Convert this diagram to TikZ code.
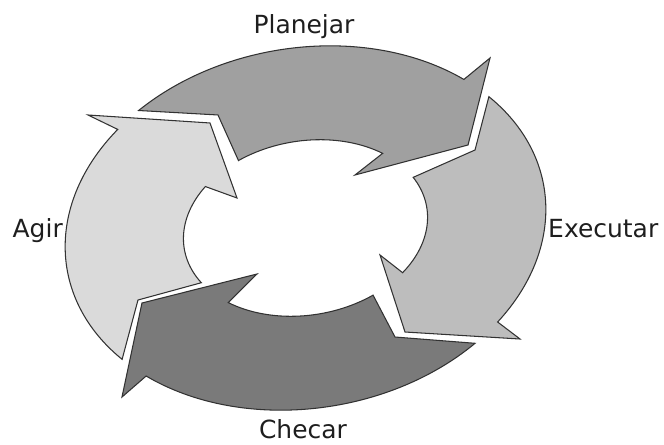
\documentclass[tikz,border=0pt]{standalone}
\usepackage{fontspec}
\setmainfont{DejaVu Sans}
\definecolor{planfill}{RGB}{160,160,160}
\definecolor{execfill}{RGB}{189,189,189}
\definecolor{checfill}{RGB}{122,122,122}
\definecolor{agirfill}{RGB}{218,218,218}
\definecolor{linegray}{RGB}{50,50,50}
\definecolor{textgray}{RGB}{30,30,30}
\begin{document}
\begin{tikzpicture}[x=0.03cm,y=-0.03cm,
  arrowshape/.style={draw=linegray, line width=0.9pt, line join=miter},
  lbl/.style={font=\fontsize{21.3}{25}\selectfont, text=textgray, inner sep=0pt}]
\useasboundingbox (0,0) rectangle (664,445);
% head and tail points (pixel coordinates)
\coordinate (PB) at (490,58);  \coordinate (PT) at (468,145);
\coordinate (PI) at (355,175); \coordinate (PN) at (218,115);
\coordinate (EB) at (520,339); \coordinate (ET) at (405,332);
\coordinate (EI) at (380,255); \coordinate (EN) at (475,150);
\coordinate (CB) at (122,397); \coordinate (CT) at (142,303);
\coordinate (CI) at (257,274); \coordinate (CN) at (395,337);
\coordinate (AB) at (88,115);  \coordinate (AT) at (210,123);
\coordinate (AI) at (237,198); \coordinate (AN) at (138,300);
\begin{scope}[shift={(305.5,228)}, rotate=10]
% Planejar
\path[arrowshape, fill=planfill] (-126.5:242 and 180)
  arc[start angle=-126.5, end angle=-41.3, x radius=242, y radius=180]
  -- (PB) -- (PT) -- (PI) -- (-43.7:123 and 87)
  arc[start angle=-43.7, end angle=-116.2, x radius=123, y radius=87]
  -- (PN) -- cycle;
% Executar
\path[arrowshape, fill=execfill] (-32.8:242 and 180)
  arc[start angle=-32.8, end angle=44.4, x radius=242, y radius=180]
  -- (EB) -- (ET) -- (EI) -- (44.4:123 and 87)
  arc[start angle=44.4, end angle=-21, x radius=123, y radius=87]
  -- (EN) -- cycle;
% Checar
\path[arrowshape, fill=checfill] (52.6:242 and 180)
  arc[start angle=52.6, end angle=139, x radius=242, y radius=180]
  -- (CB) -- (CT) -- (CI) -- (136.4:123 and 87)
  arc[start angle=136.4, end angle=63.5, x radius=123, y radius=87]
  -- (CN) -- cycle;
% Agir
\path[arrowshape, fill=agirfill] (147.2:242 and 180)
  arc[start angle=147.2, end angle=226.1, x radius=242, y radius=180]
  -- (AB) -- (AT) -- (AI) -- (222:123 and 87)
  arc[start angle=222, end angle=155.7, x radius=123, y radius=87]
  -- (AN) -- cycle;
\end{scope}
\node[lbl, anchor=base] (plan) at (304,33) {Planejar};
\node[lbl, anchor=base west] (exec) at (548,237) {Executar};
\node[lbl, anchor=base] (chec) at (303,438) {Checar};
\node[lbl, anchor=base east] (agir) at (63,237) {Agir};
\end{tikzpicture}
\end{document}
